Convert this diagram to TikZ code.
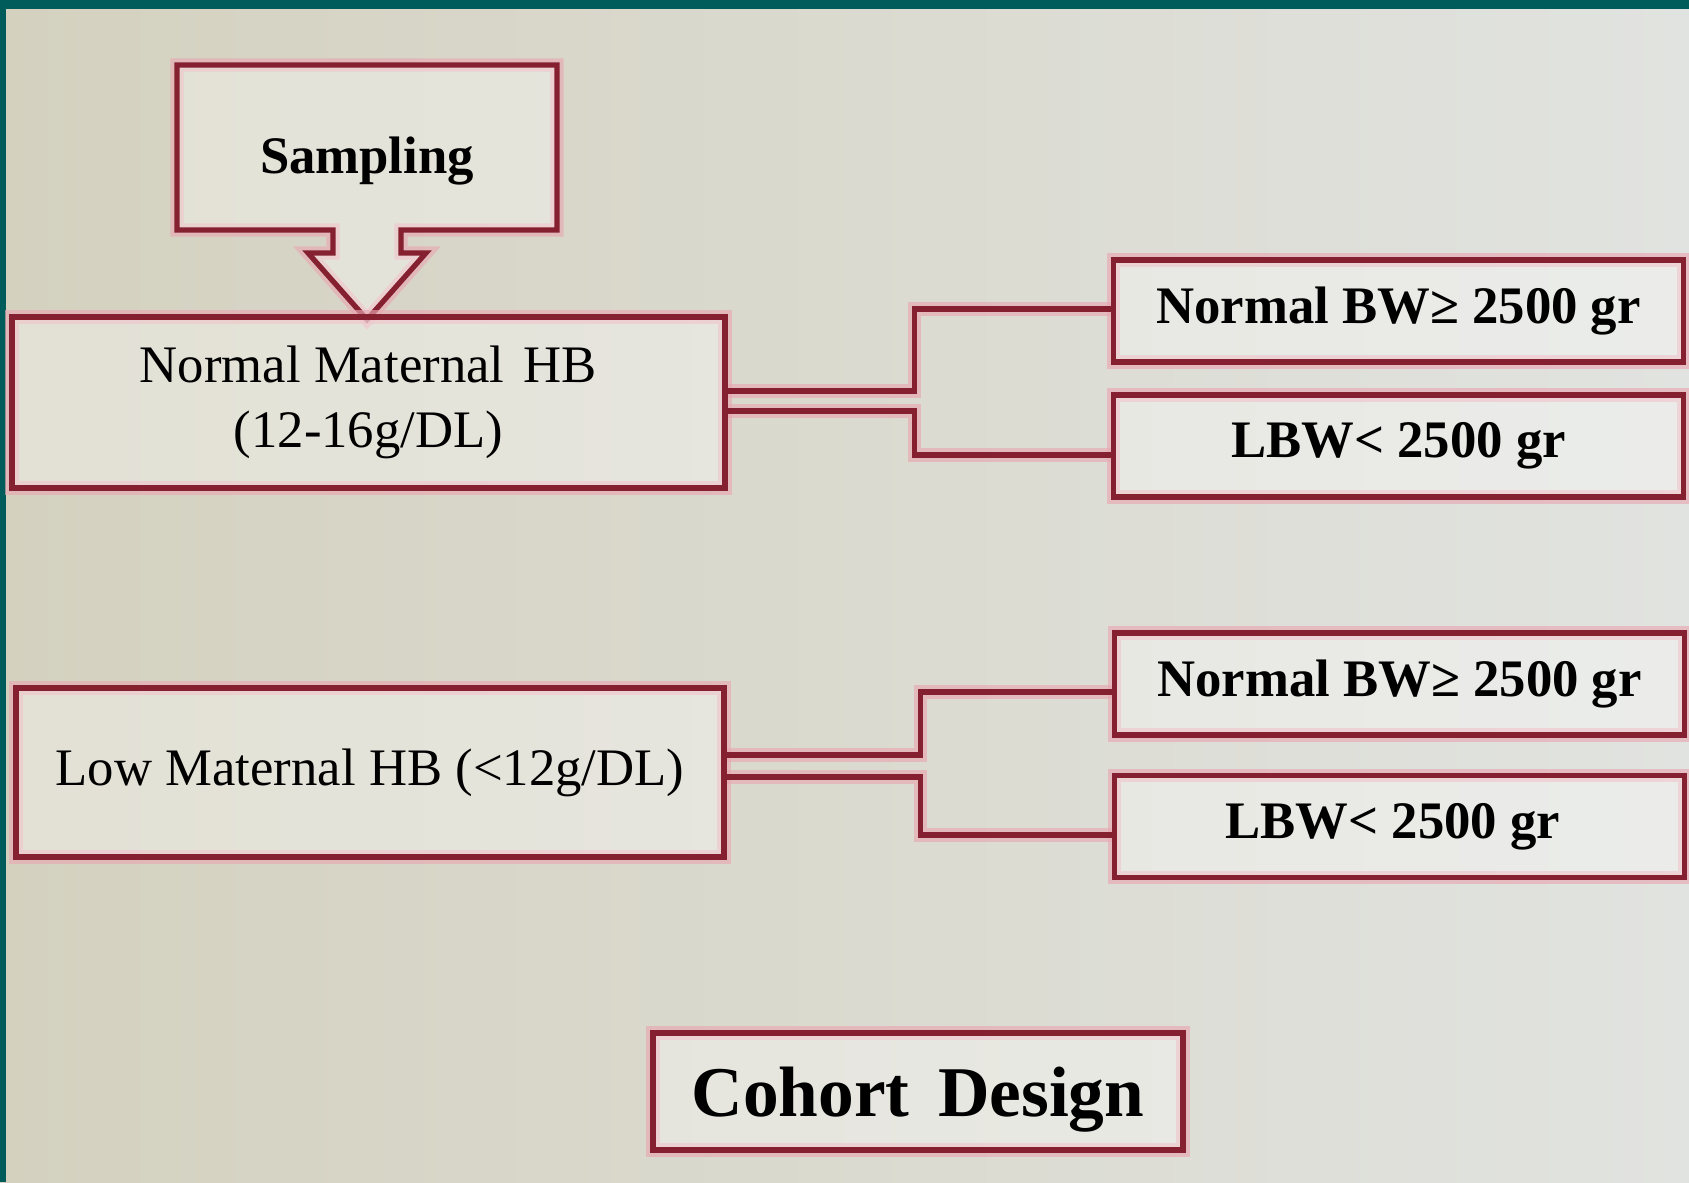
\documentclass[tikz,border=0pt]{standalone}
\usepackage{fontspec}
\setmainfont{Liberation Serif}
\usetikzlibrary{shapes.arrows,positioning}

\definecolor{frameteal}{HTML}{005B5B}
\definecolor{boxred}{HTML}{84202F}
\definecolor{glowpink}{HTML}{E8A8B2}
\definecolor{bgleft}{HTML}{D4D1BF}
\definecolor{bgmid}{HTML}{E9E9E3}
\definecolor{bgright}{HTML}{E1E3E0}

\begin{document}
\begin{tikzpicture}[
    every node/.style={font=\fontsize{15}{18.5}\selectfont},
    box/.style={draw=boxred, line width=1.5pt, fill=white, fill opacity=0.35,
      text opacity=1, inner sep=0pt, align=center,
      preaction={draw=glowpink, line width=3.8pt, draw opacity=0.65}},
    outcome/.style={box, minimum width=5.70cm, minimum height=1.02cm},
    link/.style={draw=boxred, line width=1.5pt,
      preaction={draw=glowpink, line width=3.8pt, draw opacity=0.65}}
  ]

  \useasboundingbox (0,0) rectangle (16.89,11.82);

  % blurred backdrop and frame
  \shade[left color=bgleft, middle color=bgmid, right color=bgright]
    (0,0) rectangle (16.89,11.82);
  \fill[frameteal] (0,11.73) rectangle (16.89,11.82);
  \fill[frameteal] (0,0) rectangle (0.06,11.82);

  % groups
  \node[box, arrow box, arrow box arrows={south:0.87cm},
    arrow box shaft width=0.68cm, arrow box head extend=0.25cm,
    arrow box tip angle=83, minimum width=3.80cm, minimum height=1.65cm]
    (samp) at (3.67,10.345) {\raisebox{-0.14cm}[\height][\depth]{\bfseries Sampling}};

  \node[box, minimum width=7.13cm, minimum height=1.71cm] (nmh) at (3.685,7.795)
    {Normal Maternal\hspace{0.12em} HB\\(12-16g/DL)};
  \node[box, minimum width=7.08cm, minimum height=1.69cm] (lmh) at (3.70,4.095)
    {Low Maternal HB (<12g/DL)};

  % outcomes
  \foreach \nm/\cx/\cy/\lab in {
    tbw/13.985/8.71/{Normal BW≥ 2500 gr},
    tlbw/13.985/7.36/{LBW< 2500 gr},
    bbw/13.995/4.98/{Normal BW≥ 2500 gr},
    blbw/13.995/3.555/{LBW< 2500 gr}
  }{
    \node[outcome] (\nm) at (\cx,\cy) {\bfseries\lab};
  }

  \draw[link] ([yshift=0.115cm]nmh.east) -- ++(1.87,0) |- ([yshift=0.02cm]tbw.west);
  \draw[link] ([yshift=-0.085cm]nmh.east) -- ++(1.87,0) |- ([yshift=-0.09cm]tlbw.west);
  \draw[link] ([yshift=0.175cm]lmh.east) -- ++(1.94,0) |- ([yshift=-0.08cm]bbw.west);
  \draw[link] ([yshift=-0.045cm]lmh.east) -- ++(1.94,0) |- ([yshift=-0.085cm]blbw.west);

  \node[box, minimum width=5.30cm, minimum height=1.17cm] (coh) at (9.18,0.905)
    {\raisebox{-0.08cm}[\height][\depth]{\fontsize{20.3}{24}\selectfont\bfseries Cohort\hspace{0.15em} Design}};

\end{tikzpicture}
\end{document}
